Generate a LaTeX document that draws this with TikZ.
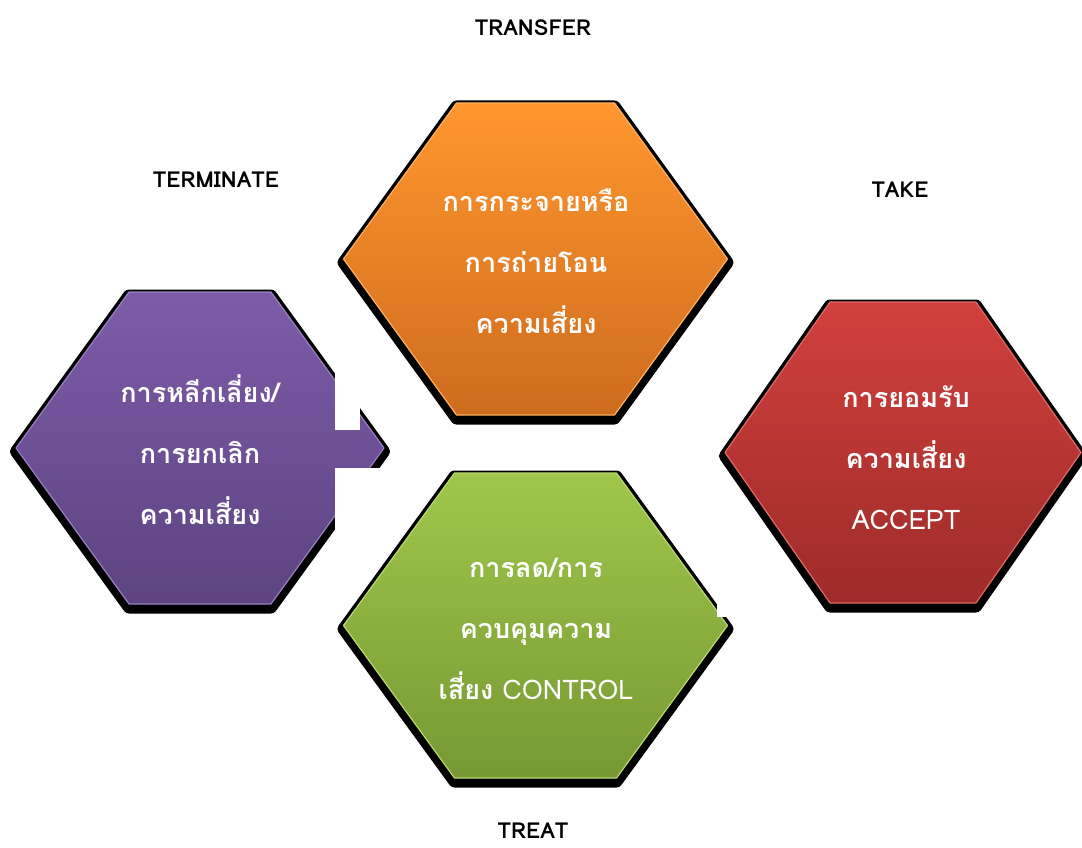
\documentclass[tikz,border=0pt]{standalone}
\usepackage{fontspec}
\newfontfamily\thaifont[Script=Thai]{Loma}
\definecolor{orTop}{HTML}{FF962E}
\definecolor{orBot}{HTML}{CE6C1E}
\definecolor{orEdge}{HTML}{FFB060}
\definecolor{puTop}{HTML}{7D5BA9}
\definecolor{puBot}{HTML}{5D4481}
\definecolor{puEdge}{HTML}{9A80C0}
\definecolor{grTop}{HTML}{9FC74B}
\definecolor{grBot}{HTML}{779833}
\definecolor{grEdge}{HTML}{B8DA70}
\definecolor{reTop}{HTML}{D1403D}
\definecolor{reBot}{HTML}{9D2B29}
\definecolor{reEdge}{HTML}{E06A66}
% #1 cx, #2 cy, #3 w0 (half width at point), #4 w1 (half width of top), #5 h, #6 top, #7 bottom, #8 edge
\newcommand\myhex[8]{%
  \draw[black, fill=black, line width=12pt, line join=round, shift={(0,3.5)}]
    (#1-#3,#2) -- (#1-#4,#2-#5) -- (#1+#4,#2-#5) -- (#1+#3,#2) -- (#1+#4,#2+#5) -- (#1-#4,#2+#5) -- cycle;
  \path[top color=#6, bottom color=#7, draw=#8, line width=1.2pt, line join=round]
    (#1-#3,#2) -- (#1-#4,#2-#5) -- (#1+#4,#2-#5) -- (#1+#3,#2) -- (#1+#4,#2+#5) -- (#1-#4,#2+#5) -- cycle;
}
\tikzset{
  hextext/.style={text=white, align=center, font=\thaifont\bfseries\fontsize{27}{61}\selectfont},
  outer/.style={text=black, inner sep=0pt, font=\thaifont\bfseries\fontsize{22}{26}\selectfont}
}
\begin{document}
\begin{tikzpicture}[x=1pt,y=-1pt]
\useasboundingbox[fill=white] (0,0) rectangle (1082,848);
% hexagons
\myhex{200}{448}{184}{71}{156}{puTop}{puBot}{puEdge}
\myhex{535.5}{259}{192}{79}{156}{orTop}{orBot}{orEdge}
\myhex{535.5}{625.5}{192}{81}{152.5}{grTop}{grBot}{grEdge}
\myhex{903}{452.5}{178}{73}{150.5}{reTop}{reBot}{reEdge}
% white patches that cover parts of the shapes
\fill[white] (335,360) rectangle (360,430);
\fill[white] (335,468) rectangle (400,533);
\fill[white] (717,590) rectangle (740,617);
% texts in hexagons
\node[hextext] (tpurple) at (200,450) {การหลีกเลี่ยง/\\การยกเลิก\\ความเสี่ยง};
\node[hextext] (torange) at (536,261) {การกระจายหรือ\\การถ่ายโอน\\ความเสี่ยง};
\node[hextext] (tgreen) at (536,629) {การลด/การ\\ควบคุมความ\\เสี่ยง {\mdseries CONTROL}};
\node[hextext] (tred) at (906,458) {การยอมรับ\\ความเสี่ยง\\{\mdseries ACCEPT}};
% outer labels
\node[outer] (ltransfer) at (533,28) {TRANSFER};
\node[outer] (lterminate) at (216,180) {TERMINATE};
\node[outer] (ltake) at (900,190) {TAKE};
\node[outer] (ltreat) at (533,831) {TREAT};
\end{tikzpicture}
\end{document}
